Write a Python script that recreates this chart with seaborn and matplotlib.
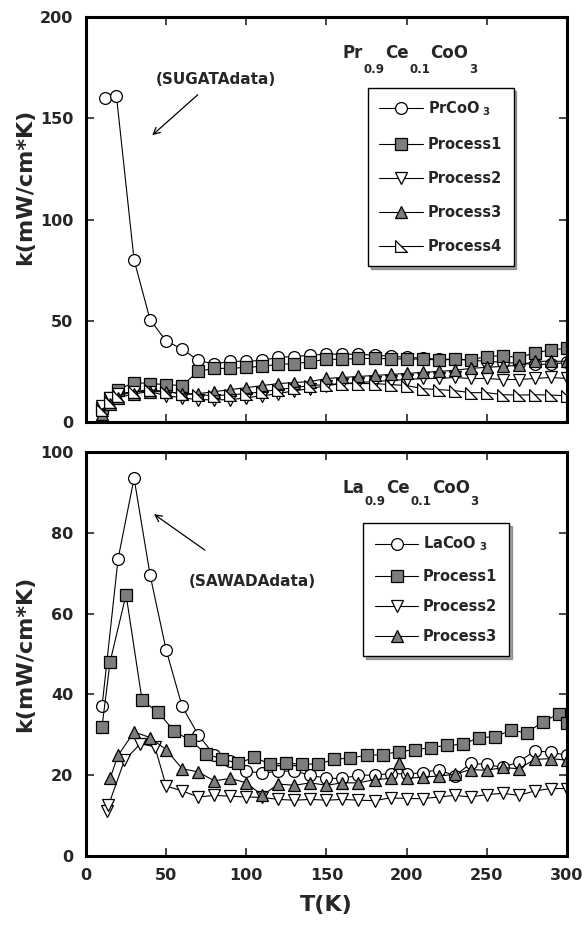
import numpy as np
import pandas as pd
import matplotlib
matplotlib.use("Agg")
import matplotlib.pyplot as plt
import seaborn as sns

# ---------------- data ----------------
# Top panel: Pr0.9Ce0.1CoO3
pr_ref_T = [12, 19, 30, 40, 50, 60, 70, 80, 90, 100, 110, 120, 130, 140, 150, 160,
            170, 180, 190, 200, 210, 220, 230, 240, 250, 260, 270, 280, 290, 300]
pr_ref_k = [160, 161, 80, 50.5, 40, 36, 30.5, 28.6, 30, 30, 30.4, 32, 32.3, 33, 33.5, 33.5,
            33.5, 33, 32.5, 32, 31.5, 31, 31, 30.5, 30, 29.5, 29, 28.5, 28.5, 29.5]
pr_T = [10, 15, 20, 30, 40, 50, 60, 70, 80, 90, 100, 110, 120, 130, 140, 150, 160,
        170, 180, 190, 200, 210, 220, 230, 240, 250, 260, 270, 280, 290, 300]
pr_p1 = [7, 12, 16, 19.5, 19, 18.5, 18, 25, 26.5, 26.5, 27, 27.5, 28.5, 28.8, 29.8, 31, 31,
         31.4, 31.4, 31.3, 31.1, 31.1, 30.6, 31, 30.8, 32.3, 32.8, 31.8, 34.2, 35.6, 36.4]
pr_p2 = [8, 12, 14, 15, 15, 13, 12, 11, 11, 11, 12, 13, 14, 15.5, 16.5, 18, 19,
         19.5, 20, 20.5, 21, 21.5, 21.5, 22, 21.5, 21.5, 21, 21, 21.5, 22, 21.5]
pr_p3 = [4, 9, 12, 14, 15, 15, 14, 14, 15, 16, 17, 18, 19, 19.5, 20, 21.5, 22,
         22.5, 23, 23.5, 24, 24.5, 25, 25.5, 26.5, 27, 27.5, 28, 30, 30, 30]
pr_p4 = [6, 10, 13, 15, 16, 15, 14, 13.5, 13, 13.5, 14, 15, 16, 17, 18, 18.5, 19,
         19, 19, 18.5, 18, 16.5, 16, 15.5, 14.5, 14.5, 13.5, 13.3, 13.5, 13.3, 13]

# Bottom panel: La0.9Ce0.1CoO3
la_ref_T = [10, 20, 30, 40, 50, 60, 70, 80, 90, 100, 110, 120, 130, 140, 150, 160, 170,
            180, 190, 200, 210, 220, 230, 240, 250, 260, 270, 280, 290, 300]
la_ref_k = [37, 73.5, 93.5, 69.5, 51, 37, 30, 25, 23.5, 21, 20.5, 21, 21, 20, 19.2, 19.2, 20,
            20, 20.4, 20.3, 20.6, 21.4, 19.8, 22.9, 22.7, 21.9, 23.3, 26, 25.7, 24.9]
la_p1_T = [10, 15, 25, 35, 45, 55, 65, 75, 85, 95, 105, 115, 125, 135, 145, 155, 165,
           175, 185, 195, 205, 215, 225, 235, 245, 255, 265, 275, 285, 295, 300]
la_p1_k = [32, 48, 64.7, 38.5, 35.6, 30.9, 28.6, 25.3, 23.9, 23, 24.4, 22.7, 23, 22.7, 22.8,
           23.9, 24.3, 24.9, 25.1, 25.8, 26.3, 26.8, 27.4, 27.6, 29.3, 29.5, 31.1, 30.5,
           33.2, 35.2, 32.8]
la_p2_T = [13, 14, 24, 34, 43, 50, 60, 70, 80, 90, 100, 110, 120, 130, 140, 150, 160,
           170, 180, 190, 200, 210, 220, 230, 240, 250, 260, 270, 280, 290, 300]
la_p2_k = [11.2, 12.5, 23.7, 27.8, 27, 17.3, 16.1, 14.6, 15, 14.8, 14.6, 14.5, 14, 13.8, 14,
           13.8, 14, 13.8, 13.7, 14.4, 14.2, 14.2, 14.6, 15, 14.6, 15.2, 15.5, 15, 16.1,
           16.7, 16.7]
la_p3_T = [15, 20, 30, 40, 50, 60, 70, 80, 90, 100, 110, 120, 130, 140, 150, 160, 170,
           180, 190, 195, 200, 210, 220, 230, 240, 250, 260, 270, 280, 290, 300]
la_p3_k = [19.2, 24.9, 30.7, 29.3, 26.3, 21.6, 20.8, 18.6, 19.2, 18.1, 15, 17.8, 17.5, 18.1,
           17.5, 18.1, 18.1, 18.9, 19.2, 23, 19.2, 19.5, 19.8, 20.2, 21.4, 21.2, 21.9, 21.6,
           23.9, 24.1, 23.7]

x_ticks = [0, 50, 100, 150, 200, 250, 300]
top_y_ticks = [0, 50, 100, 150, 200]
bot_y_ticks = [0, 20, 40, 60, 80, 100]

# ---------------- style ----------------
sns.set_theme(style="ticks")
plt.rcParams["font.family"] = ["DejaVu Sans"]
plt.rcParams["font.weight"] = "bold"
plt.rcParams["mathtext.fontset"] = "dejavusans"
plt.rcParams["mathtext.default"] = "bf"

fig = plt.figure(figsize=(5.85, 9.3), dpi=100)
ax1 = fig.add_axes([0.147, 0.5462, 0.822, 0.4355])
ax2 = fig.add_axes([0.147, 0.0796, 0.822, 0.4344])

rtri = [(-1, 1), (-1, -1), (1, -1), (-1, 1)]
ms = 8.5
lw = 0.8
gray = "#7d7d7d"

styles = {
    "circle": dict(marker="o", mfc="white"),
    "square": dict(marker="s", mfc=gray),
    "down": dict(marker="v", mfc="white"),
    "up": dict(marker="^", mfc=gray),
    "rtri": dict(marker=rtri, mfc="white"),
}


def draw(ax, T, k, style, label):
    df = pd.DataFrame({"T": T, "k": k})
    sns.lineplot(data=df, x="T", y="k", ax=ax, color="black", lw=lw,
                 markersize=ms, mec="black", mew=0.9, label=label,
                 estimator=None, sort=False, **styles[style])


draw(ax1, pr_ref_T, pr_ref_k, "circle", r"PrCoO$_{\ 3}$")
draw(ax1, pr_T, pr_p1, "square", "Process1")
draw(ax1, pr_T, pr_p2, "down", "Process2")
draw(ax1, pr_T, pr_p3, "up", "Process3")
draw(ax1, pr_T, pr_p4, "rtri", "Process4")

draw(ax2, la_ref_T, la_ref_k, "circle", r"LaCoO$_{\ 3}$")
draw(ax2, la_p1_T, la_p1_k, "square", "Process1")
draw(ax2, la_p2_T, la_p2_k, "down", "Process2")
draw(ax2, la_p3_T, la_p3_k, "up", "Process3")

for ax, yt, ymax in [(ax1, top_y_ticks, 200), (ax2, bot_y_ticks, 100)]:
    ax.set_xlim(0, 300)
    ax.set_ylim(0, ymax)
    ax.set_xticks(x_ticks)
    ax.set_yticks(yt)
    ax.tick_params(direction="in", length=6, width=1.2, top=True, right=True,
                   labelsize=11.5, pad=9)
    for s in ax.spines.values():
        s.set_linewidth(2.2)
        s.set_color("black")
    for t in ax.get_xticklabels() + ax.get_yticklabels():
        t.set_fontweight("bold")
    ax.set_ylabel("k(mW/cm*K)", fontsize=16, fontweight="bold")
    ax.set_xlabel("")

ax1.tick_params(axis="x", labelbottom=False)
ax2.set_xlabel("T(K)", fontsize=16, fontweight="bold")
ax1.yaxis.set_label_coords(-0.105, 0.58)
ax2.yaxis.set_label_coords(-0.105, 0.5)
ax2.xaxis.set_label_coords(0.5, -0.097)


def chem(ax, x, y, parts, size=12, subsize=8.5, drop=11):
    t = ax.text(x, y, parts[0], transform=ax.transAxes, ha="left", va="center",
                fontsize=size, fontweight="bold")
    for i, s in enumerate(parts[1:]):
        is_sub = (i % 2 == 0)
        t = ax.annotate(s, xy=(1, 0.5), xycoords=t,
                        xytext=(0.3, -drop if is_sub else drop), textcoords="offset points",
                        ha="left", va="center",
                        fontsize=subsize if is_sub else size, fontweight="bold")
    return t


chem(ax1, 0.534, 0.911, ["Pr", "0.9", "Ce", "0.1", "CoO", "3"], drop=11.5)
chem(ax2, 0.534, 0.911, ["La", "0.9", "Ce", "0.1", "CoO", "3"], drop=10)

# annotations
ax1.annotate("", xy=(40, 140.7), xytext=(71, 162.5),
             arrowprops=dict(arrowstyle="->", color="black", lw=0.9))
ax1.text(81, 169, "(SUGATAdata)", ha="center", va="center", fontsize=11, fontweight="bold")
ax2.annotate("", xy=(41, 85), xytext=(75.6, 75.3),
             arrowprops=dict(arrowstyle="->", color="black", lw=0.9))
ax2.text(104, 68, "(SAWADAdata)", ha="center", va="center", fontsize=11, fontweight="bold")

# legends
for ax, anchor, spacing in [(ax1, (0.586, 0.825), 1.3), (ax2, (0.576, 0.824), 1.05)]:
    leg = ax.legend(loc="upper left", bbox_to_anchor=anchor, fancybox=False, shadow=True,
                    framealpha=1, edgecolor="black", handlelength=3.0,
                    labelspacing=spacing, borderpad=0.8, handletextpad=0.3,
                    borderaxespad=0,
                    prop={"weight": "bold", "size": 10.5})
    leg.get_frame().set_linewidth(1.0)

fig.savefig("out.png", dpi=100)
